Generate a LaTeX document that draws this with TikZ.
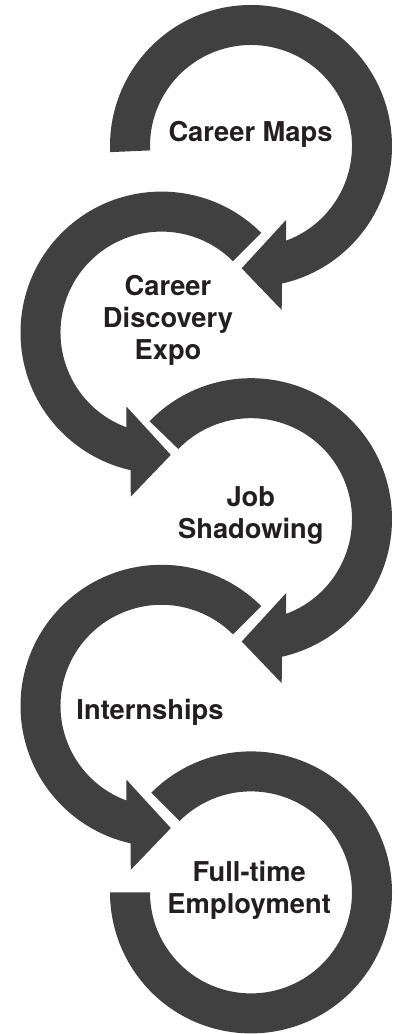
\documentclass[tikz,border=0pt]{standalone}
\usepackage{fontspec}
\setmainfont{TeX Gyre Heros}
\usetikzlibrary{positioning}
\definecolor{bandgray}{HTML}{404040}
\definecolor{labelink}{HTML}{231F20}
\tikzset{
  band/.style={fill=bandgray},
  looplabel/.style={font=\bfseries\fontsize{27.3}{32}\selectfont,text=labelink,align=center,anchor=base,inner sep=0pt},
  pics/looparrow/.style={code={
    \fill[band] (#1:141pt) arc[start angle=#1,end angle=-77.3,radius=141pt]
      -- (30.7,-164) -- (-9.3,-122.3) -- (35,-74)
      -- (-69.7:101pt) arc[start angle=-69.7,end angle=#1,radius=101pt] -- cycle;
  }}
}

\begin{document}
\begin{tikzpicture}[x=1pt,y=1pt]
  \useasboundingbox (0,0) rectangle (398,1034);
  \coordinate (c1) at (251,888);
  \coordinate (c2) at (161.5,701.4);
  \coordinate (c3) at (251,514.8);
  \coordinate (c4) at (161.5,328.2);
  \coordinate (c5) at (251,141.6);

  \pic at (c1) {looparrow=182.5};
  \pic[xscale=-1] at (c2) {looparrow=135};
  \pic at (c3) {looparrow=136};
  \pic[xscale=-1] at (c4) {looparrow=135};
  % last one has no head
  \fill[band,shift={(c5)}] (135:141pt) arc[start angle=135,end angle=-180,radius=141pt]
    -- (180:101pt) arc[start angle=-180,end angle=135,radius=101pt] -- cycle;

  % base of a label is the base of its last line
  \node[looplabel] (maps) at (250.5,892.3) {Career Maps};
  \node[looplabel] (expo) at (168,674) {Career\\Discovery\\Expo};
  \node[looplabel] (shadow) at (250.8,495.7) {Job\\Shadowing};
  \node[looplabel] (intern) at (150,314.7) {Internships};
  \node[looplabel] (fulltime) at (249.2,120.7) {Full-time\\Employment};
\end{tikzpicture}
\end{document}
